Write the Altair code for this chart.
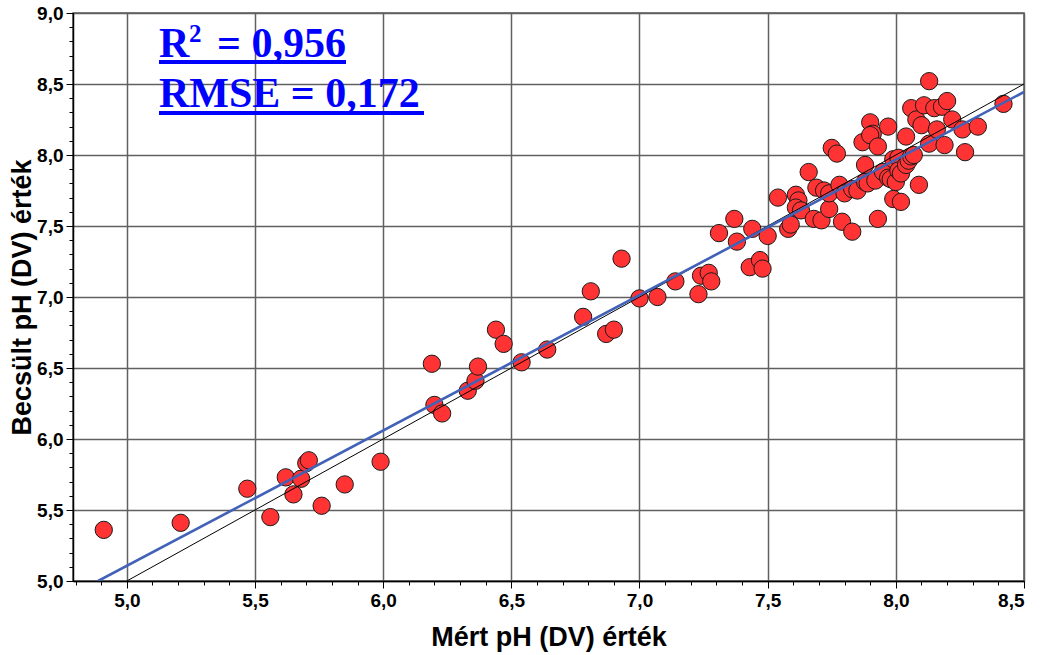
import altair as alt
import pandas as pd

meas_ph = [4.91, 5.21, 5.47, 5.56, 5.62, 5.65, 5.68, 5.70, 5.71, 5.76, 5.85, 5.99,
           6.19, 6.20, 6.23, 6.33, 6.36, 6.37, 6.44, 6.47, 6.54, 6.64, 6.78, 6.81,
           6.87, 6.90, 6.93, 7.00, 7.07, 7.14, 7.23, 7.24, 7.27, 7.28, 7.31, 7.37,
           7.38, 7.44, 7.43, 7.47, 7.48, 7.50, 7.54, 7.58, 7.59, 7.61, 7.62, 7.61,
           7.63, 7.66, 7.68, 7.71, 7.69, 7.72, 7.74, 7.74, 7.75, 7.77, 7.78, 7.79,
           7.80, 7.83, 7.83, 7.85, 7.87, 7.88, 7.88, 7.89, 7.90, 7.91, 7.90, 7.92,
           7.93, 7.93, 7.95, 7.97, 7.97, 7.98, 7.99, 7.99, 8.00, 8.01, 8.01, 8.02,
           8.02, 8.04, 8.04, 8.05, 8.06, 8.07, 8.06, 8.08, 8.09, 8.10, 8.11, 8.13,
           8.13, 8.15, 8.16, 8.18, 8.19, 8.20, 8.22, 8.26, 8.27, 8.32, 8.42]
est_ph = [5.36, 5.41, 5.65, 5.45, 5.73, 5.61, 5.72, 5.83, 5.85, 5.53, 5.68, 5.84,
          6.53, 6.24, 6.18, 6.34, 6.41, 6.51, 6.77, 6.67, 6.54, 6.63, 6.86, 7.04,
          6.74, 6.77, 7.27, 6.99, 7.00, 7.11, 7.02, 7.15, 7.17, 7.11, 7.45, 7.55,
          7.39, 7.48, 7.21, 7.26, 7.20, 7.43, 7.70, 7.48, 7.51, 7.72, 7.68, 7.63,
          7.61, 7.88, 7.55, 7.54, 7.77, 7.75, 7.62, 7.73, 8.05, 8.01, 7.79, 7.53,
          7.73, 7.76, 7.46, 7.75, 8.09, 7.93, 7.81, 7.80, 8.23, 8.15, 8.14, 7.82,
          8.06, 7.55, 7.88, 8.20, 7.84, 7.83, 7.69, 7.97, 7.81, 7.98, 7.89, 7.67,
          7.87, 7.93, 8.13, 7.96, 7.99, 8.00, 8.33, 8.25, 7.79, 8.21, 8.35, 8.08,
          8.52, 8.33, 8.18, 8.34, 8.07, 8.38, 8.25, 8.18, 8.02, 8.20, 8.36]

# 1:1 line and fitted line end points
identity_x = [5.0, 8.5]
identity_y = [5.0, 8.5]
fit_x = [4.888, 8.5]
fit_y = [5.0, 8.444]

ann_r = "R"
ann_sup = "2"
ann_r2_rest = "= 0,956"
ann_rmse = "RMSE = 0,172"

x_major = [5.0, 5.5, 6.0, 6.5, 7.0, 7.5, 8.0, 8.5]
y_major = [5.0, 5.5, 6.0, 6.5, 7.0, 7.5, 8.0, 8.5, 9.0]
x_minor = [round(4.8 + 0.1 * i, 1) for i in range(38)]
y_minor = [round(5.0 + 0.1 * i, 1) for i in range(41)]

pts = pd.DataFrame({"x": meas_ph, "y": est_ph})
ident = pd.DataFrame({"x": identity_x, "y": identity_y})
fit = pd.DataFrame({"x": fit_x, "y": fit_y})

xscale = alt.Scale(domain=[4.79, 8.5], nice=False, zero=False)
yscale = alt.Scale(domain=[5.0, 9.0], nice=False, zero=False)
lab = "replace(format(datum.value, '.1f'), '.', ',')"

points = alt.Chart(pts).mark_point(
    shape="circle", filled=True, size=300, fill="#ff3333", stroke="#1a1a1a",
    strokeWidth=1, opacity=1
).encode(
    x=alt.X("x:Q", scale=xscale, axis=alt.Axis(
        values=x_major, labelExpr=lab, tickSize=7, grid=True,
        title="Mért pH (DV) érték", titleY=64, titleBaseline="alphabetic")),
    y=alt.Y("y:Q", scale=yscale, axis=alt.Axis(
        values=y_major, labelExpr=lab, tickSize=7, grid=True,
        title="Becsült pH (DV) érték", titleX=-51, titleBaseline="middle")),
)

ident_line = alt.Chart(ident).mark_line(color="black", strokeWidth=1, clip=True).encode(
    x=alt.X("x:Q", scale=xscale, axis=alt.Axis(
        values=x_minor, labels=False, tickSize=4, grid=False, domain=False,
        title=None, orient="bottom")),
    y=alt.Y("y:Q", scale=yscale, axis=alt.Axis(
        values=y_minor, labels=False, tickSize=4, grid=False, domain=False,
        title=None, orient="left")),
)

fit_line = alt.Chart(fit).mark_line(color="#4262b8", strokeWidth=2.6, clip=True).encode(
    x=alt.X("x:Q", scale=xscale, axis=None),
    y=alt.Y("y:Q", scale=yscale, axis=None),
)

one = pd.DataFrame({"k": [0]})
tstyle = dict(font="Liberation Serif", fontWeight="bold", color="#0000ff",
              align="left", baseline="alphabetic")
txt_r = alt.Chart(one).mark_text(fontSize=42, **tstyle).encode(
    x=alt.value(86), y=alt.value(44), text=alt.value(ann_r))
txt_sup = alt.Chart(one).mark_text(fontSize=25, **tstyle).encode(
    x=alt.value(116), y=alt.value(29), text=alt.value(ann_sup))
txt_rest = alt.Chart(one).mark_text(fontSize=42, **tstyle).encode(
    x=alt.value(144), y=alt.value(44), text=alt.value(ann_r2_rest))
txt2 = alt.Chart(one).mark_text(fontSize=42, **tstyle).encode(
    x=alt.value(86), y=alt.value(94), text=alt.value(ann_rmse))
ul1 = alt.Chart(one).mark_rule(color="#0000ff", strokeWidth=4).encode(
    x=alt.value(86), x2=alt.value(273), y=alt.value(49))
ul2 = alt.Chart(one).mark_rule(color="#0000ff", strokeWidth=4).encode(
    x=alt.value(86), x2=alt.value(351), y=alt.value(100))

chart = alt.layer(points, ident_line, fit_line, txt_r, txt_sup, txt_rest, txt2,
                  ul1, ul2).resolve_axis(
    x="independent", y="independent"
).properties(
    width=951, height=568,
    autosize=alt.AutoSizeParams(type="none"),
    padding={"left": 73, "top": 13, "right": 19, "bottom": 74},
).configure_view(
    stroke="#555555", strokeWidth=1.5
).configure_axis(
    labelFont="Liberation Sans", labelFontWeight="bold", labelFontSize=19,
    labelColor="black", labelPadding=3,
    titleFont="Liberation Sans", titleFontWeight="bold", titleFontSize=27,
    titleColor="black",
    tickColor="black", tickWidth=1, domainColor="black", domainWidth=1.5,
    gridColor="#606060", gridWidth=1.5,
)

chart.save("out.html", embed_options={"renderer": "svg", "actions": False})
